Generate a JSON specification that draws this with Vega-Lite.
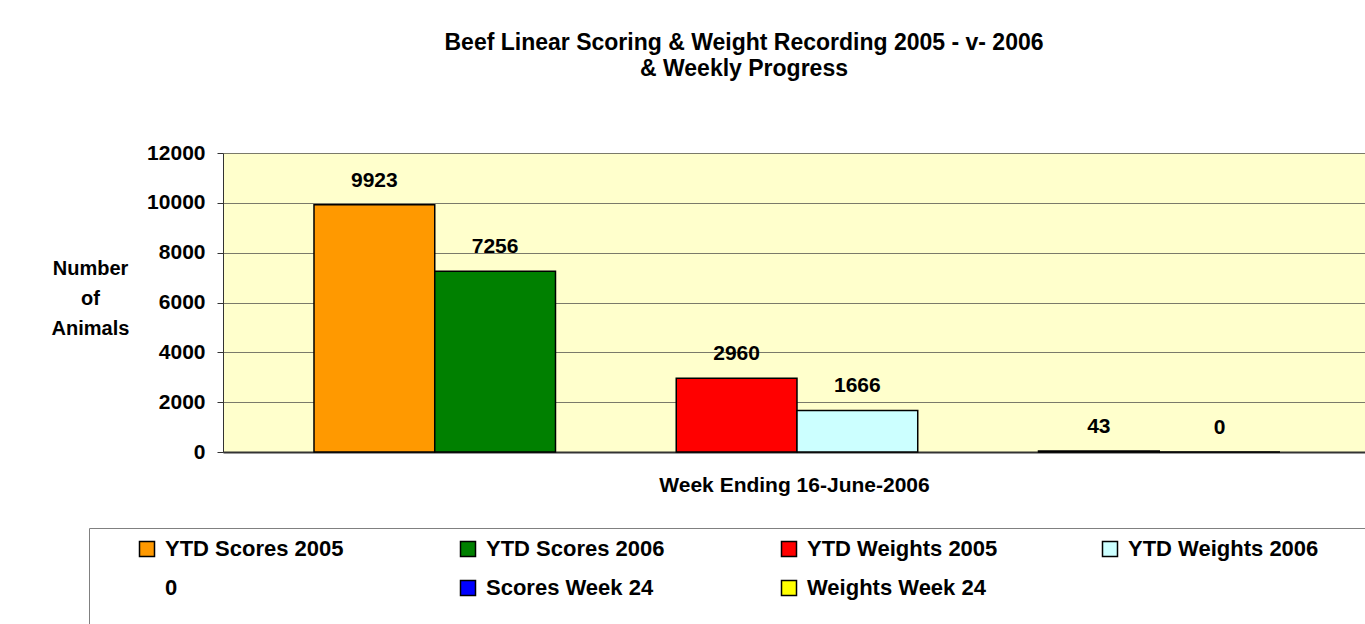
{
  "$schema": "https://vega.github.io/schema/vega-lite/v6.json",
  "autosize": {"type": "none"},
  "width": 1142,
  "height": 299,
  "padding": {"left": 223, "top": 153, "right": 0, "bottom": 172},
  "background": "white",
  "title": {
    "text": ["Beef Linear Scoring & Weight Recording 2005 - v- 2006", "&  Weekly Progress"],
    "font": "Liberation Sans",
    "fontSize": 23,
    "fontWeight": "bold",
    "color": "black",
    "lineHeight": 26,
    "anchor": "middle",
    "frame": "group",
    "dx": -50,
    "offset": 61
  },
  "data": {
    "values": [
      {"series": "YTD Scores 2005", "animals": 9923},
      {"series": "YTD Scores 2006", "animals": 7256},
      {"series": "YTD Weights 2005", "animals": 2960},
      {"series": "YTD Weights 2006", "animals": 1666},
      {"series": "Scores Week 24", "animals": 43},
      {"series": "Weights Week 24", "animals": 0}
    ]
  },
  "encoding": {
    "x": {
      "field": "series",
      "type": "nominal",
      "sort": null,
      "scale": {
        "domain": ["YTD Scores 2005", "YTD Scores 2006", "", "YTD Weights 2005", "YTD Weights 2006", "0", "Scores Week 24", "Weights Week 24"],
        "paddingInner": 0,
        "paddingOuter": 0.7288,
        "align": 0.517
      },
      "axis": {
        "title": "Week Ending 16-June-2006",
        "labels": false,
        "ticks": false,
        "domainColor": "#333333",
        "domainWidth": 2,
        "titleFont": "Liberation Sans",
        "titleFontSize": 21,
        "titleFontWeight": "bold",
        "titleColor": "black",
        "titleBaseline": "middle",
        "titleY": 33
      }
    },
    "y": {
      "field": "animals",
      "type": "quantitative",
      "scale": {"domain": [0, 12000], "nice": false},
      "axis": {
        "values": [0, 2000, 4000, 6000, 8000, 10000, 12000],
        "format": "d",
        "title": ["Number", "of", "Animals"],
        "titleAngle": 0,
        "titleAlign": "center",
        "titleBaseline": "middle",
        "titleX": -133,
        "titleY": 115,
        "titleLineHeight": 30,
        "titleFont": "Liberation Sans",
        "titleFontSize": 20,
        "titleFontWeight": "bold",
        "titleColor": "black",
        "labelFont": "Liberation Sans",
        "labelFontSize": 21,
        "labelFontWeight": "bold",
        "labelColor": "black",
        "labelPadding": 12,
        "tickSize": 6,
        "tickColor": "#333333",
        "domainColor": "#333333",
        "grid": true,
        "gridColor": "#7a7a6a",
        "gridWidth": 1.2
      }
    }
  },
  "layer": [
    {
      "mark": {"type": "bar", "strokeWidth": 1.5},
      "encoding": {
        "fill": {
          "field": "series",
          "type": "nominal",
          "scale": {
            "domain": ["YTD Scores 2005", "YTD Scores 2006", "YTD Weights 2005", "YTD Weights 2006", "0", "Scores Week 24", "Weights Week 24"],
            "range": ["#FF9900", "#008000", "#FF0000", "#CCFFFF", "transparent", "#0000FF", "#FFFF00"]
          },
          "legend": {"title": [" ", " ", " "]}
        },
        "stroke": {
          "field": "series",
          "type": "nominal",
          "scale": {
            "domain": ["YTD Scores 2005", "YTD Scores 2006", "YTD Weights 2005", "YTD Weights 2006", "0", "Scores Week 24", "Weights Week 24"],
            "range": ["#000000", "#000000", "#000000", "#000000", "transparent", "#000000", "#000000"]
          },
          "legend": {"title": [" ", " ", " "]}
        }
      }
    },
    {
      "mark": {
        "type": "text",
        "font": "Liberation Sans",
        "fontSize": 21,
        "fontWeight": "bold",
        "color": "black",
        "baseline": "alphabetic",
        "dy": -18
      },
      "encoding": {
        "text": {"field": "animals", "type": "quantitative", "format": "d"}
      }
    }
  ],
  "config": {
    "view": {"fill": "#FFFFCC", "stroke": null},
    "legend": {
      "orient": "none",
      "legendX": -134,
      "legendY": 375,
      "direction": "horizontal",
      "columns": 4,
      "gridAlign": "all",
      "columnPadding": 64,
      "rowPadding": 17,
      "padding": 10,
      "symbolOffset": 37,
      "strokeColor": "#808080",
      "fillColor": "white",
      "symbolType": "square",
      "symbolSize": 225,
      "symbolStrokeWidth": 1.5,
      "labelOffset": 7,
      "labelFont": "Liberation Sans",
      "labelFontSize": 22,
      "labelFontWeight": "bold",
      "labelColor": "black",
      "labelLimit": 400,
      "titleOrient": "right",
      "titlePadding": 80,
      "titleLineHeight": 40,
      "titleFontSize": 20
    }
  }
}
